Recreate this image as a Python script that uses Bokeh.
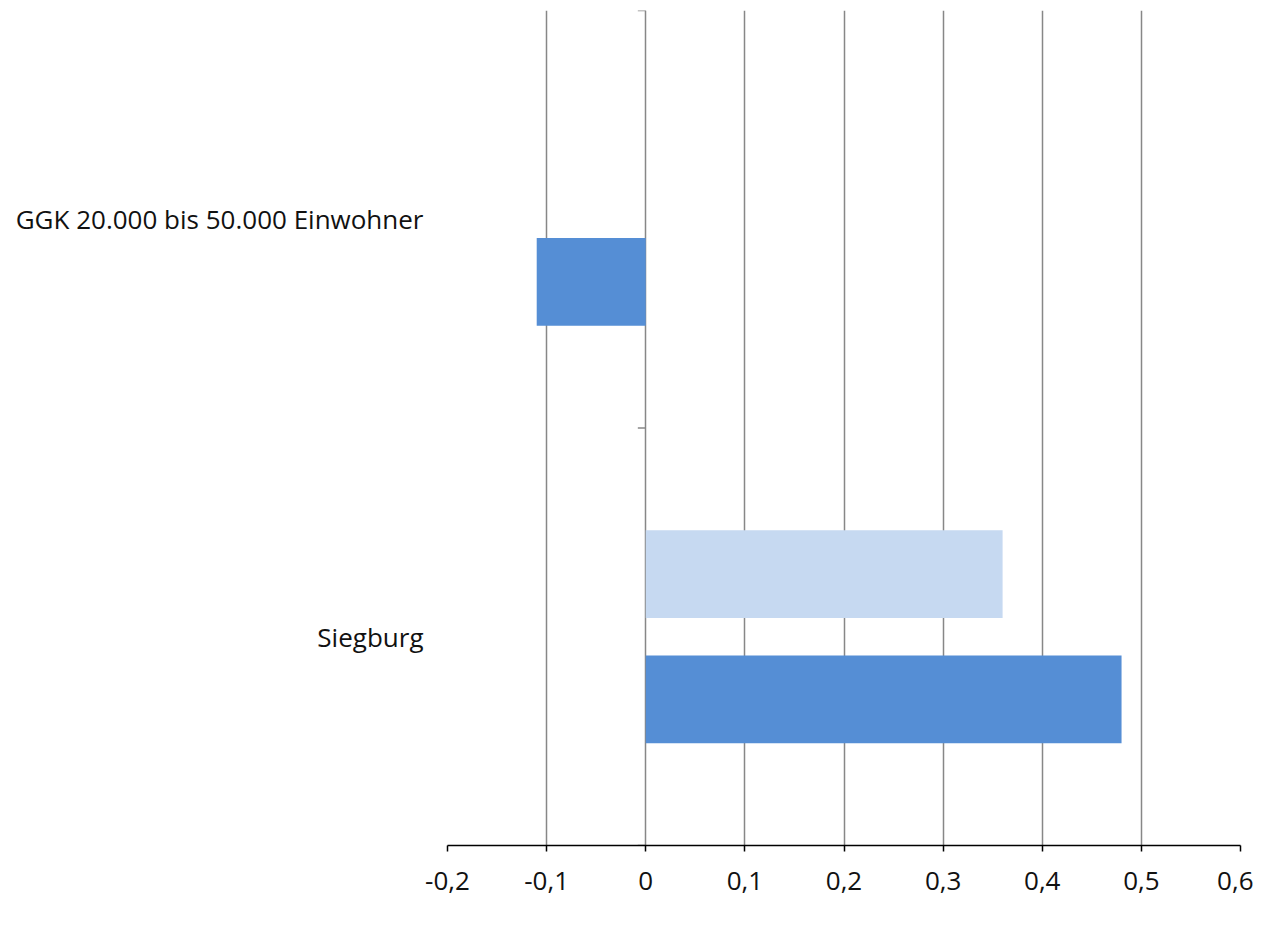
from bokeh.plotting import figure
from bokeh.models import (ColumnDataSource, FactorRange, Range1d, FixedTicker,
                          Legend, LegendItem)
from bokeh.transform import dodge
from bokeh.embed import file_html
from bokeh.resources import INLINE

# ---- data ----
categories = ["Siegburg", "GGK 20.000 bis 50.000 Einwohner"]  # bottom to top
series_names = ["2016 bis 2018", "2009 bis 2018"]
values_2016 = [0.36, float("nan")]
values_2009 = [0.48, -0.11]
x_ticks = [-0.2, -0.1, 0.0, 0.1, 0.2, 0.3, 0.4, 0.5, 0.6]
x_tick_labels = ["-0,2", "-0,1", "0", "0,1", "0,2", "0,3", "0,4", "0,5", "0,6"]

FONT = "Open Sans"
FS = "26px"
LIGHT = "#C6D9F1"
DARK = "#558ED5"
GRID = "#878787"

src = ColumnDataSource(dict(cat=categories, v2016=values_2016, v2009=values_2009))

p = figure(frame_width=793, frame_height=835,
           y_range=FactorRange(factors=categories),
           x_range=Range1d(x_ticks[0], x_ticks[-1]),
           output_backend="svg", toolbar_location=None,
           min_border_left=447, min_border_right=13,
           min_border_top=10, min_border_bottom=0)
p.outline_line_color = None
p.background_fill_color = "white"

r1 = p.hbar(y=dodge("cat", 0.15, range=p.y_range), left=0, right="v2016",
            height=0.21, source=src, fill_color=LIGHT, line_color=None)
r2 = p.hbar(y=dodge("cat", -0.15, range=p.y_range), left=0, right="v2009",
            height=0.21, source=src, fill_color=DARK, line_color=None)

# category boundary ticks at the zero axis
bounds = [(c, -0.5) for c in categories] + [(categories[-1], 0.5)]
p.segment(x0=[-0.008] * len(bounds), x1=[0] * len(bounds), y0=bounds, y1=bounds,
          line_color=GRID, line_width=1.5)

# x axis
p.xaxis.ticker = FixedTicker(ticks=x_ticks)
p.xaxis.major_label_overrides = {t: l for t, l in zip(x_ticks, x_tick_labels)}
p.xaxis.minor_tick_line_color = None
p.xaxis.major_tick_in = 0
p.xaxis.major_tick_out = 6
p.xaxis.axis_line_color = "black"
p.xaxis.axis_line_width = 1.5
p.xaxis.major_tick_line_color = "black"
p.xaxis.major_tick_line_width = 1.5
p.xaxis.major_label_text_font = FONT
p.xaxis.major_label_text_font_size = FS
p.xaxis.major_label_text_color = "#111111"
p.xaxis.major_label_standoff = 20

# y axis
p.yaxis.axis_line_color = None
p.yaxis.major_tick_line_color = None
p.yaxis.minor_tick_line_color = None
p.yaxis.major_tick_out = 0
p.yaxis.major_tick_in = 0
p.yaxis.major_label_standoff = 24
p.yaxis.major_label_text_font = FONT
p.yaxis.major_label_text_font_size = FS
p.yaxis.major_label_text_color = "#111111"

# grid
p.xgrid.ticker = FixedTicker(ticks=x_ticks)
p.xgrid.grid_line_color = GRID
p.xgrid.grid_line_width = 1.5
p.ygrid.grid_line_color = None

legend = Legend(items=[LegendItem(label=series_names[0], renderers=[r1]),
                       LegendItem(label=series_names[1], renderers=[r2])],
                location="top_left", orientation="horizontal",
                glyph_width=14, glyph_height=20, label_standoff=6, spacing=36,
                padding=0, margin=0, border_line_color=None,
                background_fill_alpha=0,
                label_text_font=FONT, label_text_font_size=FS,
                label_text_color="#111111")
p.add_layout(legend, "below")

open("out.html", "w").write(file_html(p, INLINE))
